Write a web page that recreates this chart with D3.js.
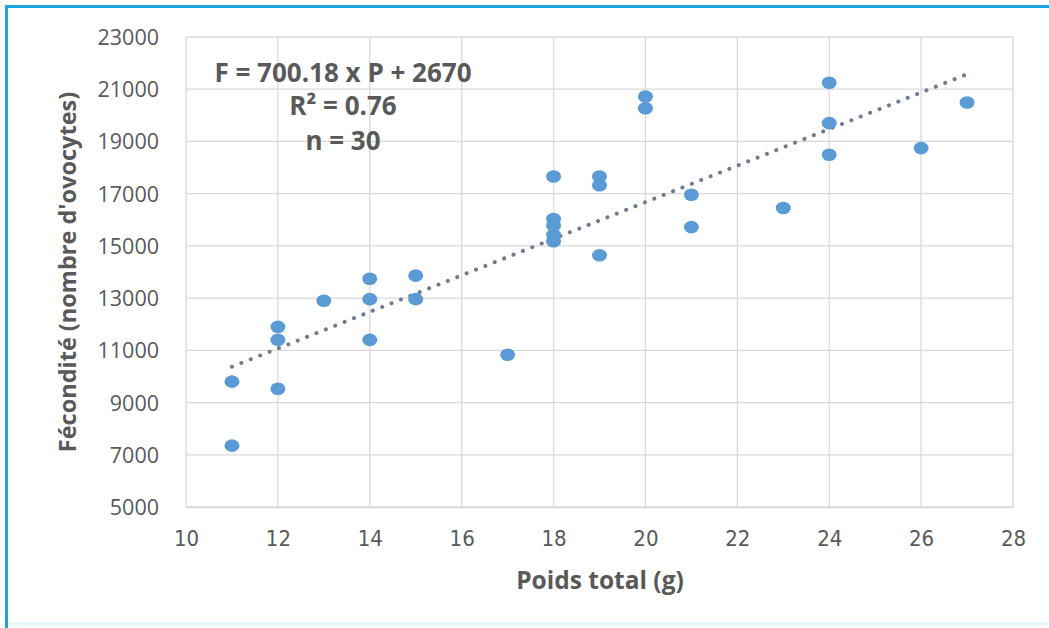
<!DOCTYPE html>
<html><head><meta charset="utf-8">
<script src="https://cdn.jsdelivr.net/npm/d3@7"></script>
<style>
html,body{margin:0;padding:0;background:#fff;}
svg{display:block;}
</style></head>
<body><svg id="chart" width="1049" height="628"></svg>
<script>
// ---- data ----
const poids = [11,11,12,12,12,13,14,14,14,15,15,17,18,18,18,18,18,19,19,19,20,20,21,21,23,24,24,24,26,27];
const fecondite = [9800,7350,11900,11400,9530,12900,13740,12960,11400,13860,12960,10830,17660,16030,15780,15420,15180,17660,17320,14640,20720,20270,16960,15720,16450,21250,19700,18490,18745,20490];
const xTicks = [10,12,14,16,18,20,22,24,26,28];
const yTicks = [5000,7000,9000,11000,13000,15000,17000,19000,21000,23000];
const trendSlope = 700.18, trendIntercept = 2670;
const trendRange = [11,27];
const eqLines = ["F = 700.18 x P + 2670", "R² = 0.76", "n = 30"];
const xTitle = "Poids total (g)";
const yTitle = "Fécondité (nombre d'ovocytes)";

const svg = d3.select("#chart");
const W = 1049, H = 628;
const m = {left:186, right:1013, top:37, bottom:507};

// frame
svg.append("rect").attr("x",0).attr("y",0).attr("width",W).attr("height",H).attr("fill","#fff");
svg.append("line").attr("x1",5).attr("x2",W).attr("y1",6.5).attr("y2",6.5).attr("stroke","#1ba3dd").attr("stroke-width",3);
svg.append("line").attr("x1",6.5).attr("x2",6.5).attr("y1",5).attr("y2",H).attr("stroke","#1ba3dd").attr("stroke-width",3);
svg.append("rect").attr("x",8).attr("y",622).attr("width",W-8).attr("height",3).attr("fill","#e4f7fb");

const x = d3.scaleLinear().domain([10,28]).range([m.left,m.right]);
const y = d3.scaleLinear().domain([5000,23000]).range([m.bottom,m.top]);

// gridlines
svg.append("g").selectAll("line").data(yTicks).join("line")
  .attr("x1",m.left).attr("x2",m.right).attr("y1",d=>y(d)).attr("y2",d=>y(d))
  .attr("stroke","#d9d9d9").attr("stroke-width",1.3);
svg.append("g").selectAll("line").data(xTicks).join("line")
  .attr("y1",m.top).attr("y2",m.bottom).attr("x1",d=>x(d)).attr("x2",d=>x(d))
  .attr("stroke","#d9d9d9").attr("stroke-width",1.3);

// axes (labels only)
const xAxis = svg.append("g").attr("transform",`translate(0,${m.bottom})`)
  .call(d3.axisBottom(x).tickValues(xTicks).tickSize(0).tickPadding(23).tickFormat(d3.format("d")));
xAxis.select(".domain").attr("stroke","#d9d9d9").attr("stroke-width",1.3);
xAxis.selectAll("text").attr("font-family","'Liberation Sans Narrow','DejaVu Sans Condensed','Open Sans',sans-serif")
  .attr("font-size",22).attr("fill","#595959");

const yAxis = svg.append("g").attr("transform",`translate(${m.left},0)`)
  .call(d3.axisLeft(y).tickValues(yTicks).tickSize(0).tickPadding(27).tickFormat(d3.format("d")));
yAxis.select(".domain").remove();
yAxis.selectAll("text").attr("font-family","'Open Sans',sans-serif")
  .attr("font-size",21.5).attr("fill","#595959").attr("dy","0.35em");

// trendline
const trendData = trendRange.map(p=>({p, f: trendSlope*p + trendIntercept}));
svg.append("path").datum(trendData)
  .attr("d", d3.line().x(d=>x(d.p)).y(d=>y(d.f)))
  .attr("fill","none").attr("stroke","#707d91").attr("stroke-width",4)
  .attr("stroke-linecap","round").attr("stroke-dasharray","0.1 10");

// points
svg.append("g").selectAll("ellipse").data(poids.map((p,i)=>({p,f:fecondite[i]}))).join("ellipse")
  .attr("cx",d=>x(d.p)).attr("cy",d=>y(d.f)).attr("rx",7.5).attr("ry",6.3)
  .attr("fill","#5b9bd5");

// equation
svg.append("g").selectAll("text").data(eqLines).join("text")
  .attr("x",343).attr("y",(d,i)=>[82,115,150][i])
  .attr("text-anchor","middle").attr("font-family","'Open Sans',sans-serif")
  .attr("font-weight","bold").attr("font-size",26).attr("fill","#595959")
  .text(d=>d);

// titles
svg.append("text").attr("x",600).attr("y",589).attr("text-anchor","middle")
  .attr("font-family","'Open Sans',sans-serif").attr("font-weight","bold").attr("font-size",24.5)
  .attr("fill","#595959").text(xTitle);
svg.append("text").attr("transform","translate(76,272) rotate(-90)").attr("text-anchor","middle")
  .attr("font-family","'Open Sans',sans-serif").attr("font-weight","bold").attr("font-size",23.5)
  .attr("fill","#595959").text(yTitle);
</script>
</body></html>
